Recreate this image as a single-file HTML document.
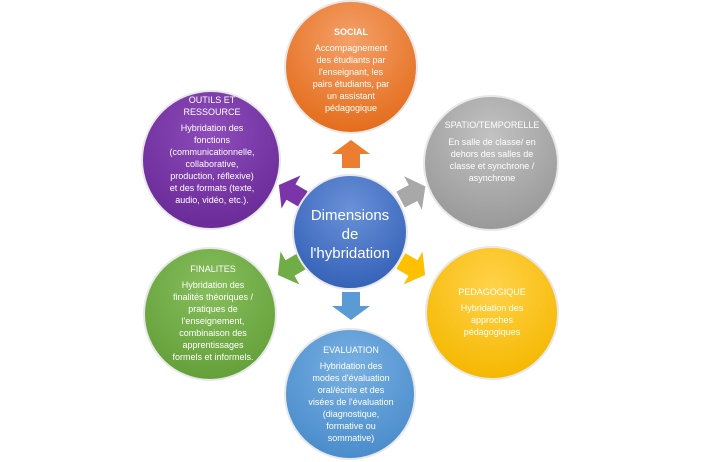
<!DOCTYPE html>
<html><head><meta charset="utf-8"><style>
html,body{margin:0;padding:0;background:#fff;width:703px;height:462px;overflow:hidden}
svg{display:block}
text{font-family:"Liberation Sans",sans-serif;fill:#fff;text-anchor:middle}
</style></head><body>
<svg width="703" height="462" viewBox="0 0 703 462">
<defs>
<radialGradient id="go" cx="50%" cy="30%" r="70%"><stop offset="0" stop-color="#f4a069"/><stop offset="1" stop-color="#e46d1c"/></radialGradient>
<radialGradient id="gp" cx="50%" cy="30%" r="70%"><stop offset="0" stop-color="#8c4dbb"/><stop offset="1" stop-color="#6a2a98"/></radialGradient>
<radialGradient id="gg" cx="50%" cy="30%" r="70%"><stop offset="0" stop-color="#c2c2c2"/><stop offset="1" stop-color="#999"/></radialGradient>
<radialGradient id="gb" cx="50%" cy="30%" r="70%"><stop offset="0" stop-color="#6a91d8"/><stop offset="1" stop-color="#3562b8"/></radialGradient>
<radialGradient id="gy" cx="50%" cy="30%" r="70%"><stop offset="0" stop-color="#ffd24a"/><stop offset="1" stop-color="#f5b800"/></radialGradient>
<radialGradient id="gn" cx="50%" cy="30%" r="70%"><stop offset="0" stop-color="#86be5c"/><stop offset="1" stop-color="#64a03a"/></radialGradient>
<radialGradient id="gl" cx="50%" cy="30%" r="70%"><stop offset="0" stop-color="#78b0e2"/><stop offset="1" stop-color="#4a8ccc"/></radialGradient>
<polygon id="ar" points="-14,-9 0,-9 0,-19 14,0 0,19 0,9 -14,9"/>
</defs>
<g stroke="#e8e8e8" stroke-width="2">
<circle cx="351" cy="67" r="66" fill="url(#go)"/>
<circle cx="211" cy="160" r="69" fill="url(#gp)"/>
<circle cx="491" cy="163" r="67" fill="url(#gg)"/>
<circle cx="210" cy="314" r="66" fill="url(#gn)"/>
<circle cx="492" cy="313" r="66" fill="url(#gy)"/>
<circle cx="350" cy="394" r="65" fill="url(#gl)"/>
</g>
<use href="#ar" fill="#ed7d31" transform="translate(351,154) rotate(-90)"/>
<use href="#ar" fill="#7b35a8" transform="translate(291,192) rotate(-150)"/>
<use href="#ar" fill="#a8a8a8" transform="translate(413,193) rotate(-28)"/>
<use href="#ar" fill="#70ad47" transform="translate(290,268) rotate(150)"/>
<use href="#ar" fill="#ffc000" transform="translate(413,268) rotate(30)"/>
<use href="#ar" fill="#5b9bd5" transform="translate(351,306) rotate(90)"/>
<circle cx="350" cy="232" r="57" fill="url(#gb)" stroke="#e8e8e8" stroke-width="2"/>
<g font-size="15"><text x="350" y="220">Dimensions</text><text x="350" y="239">de</text><text x="350" y="258">l'hybridation</text></g>
<g font-size="9">
<text x="351" y="35" font-weight="bold">SOCIAL</text>
<text x="351" y="51">Accompagnement</text><text x="351" y="63">des étudiants par</text><text x="351" y="75">l'enseignant, les</text><text x="351" y="87">pairs étudiants, par</text><text x="351" y="99">un assistant</text><text x="351" y="111">pédagogique</text>
<text x="212" y="103">OUTILS ET</text><text x="212" y="115">RESSOURCE</text>
<text x="212" y="131">Hybridation des</text><text x="212" y="143">fonctions</text><text x="212" y="155">(communicationnelle,</text><text x="212" y="167">collaborative,</text><text x="212" y="179">production, réflexive)</text><text x="212" y="191">et des formats (texte,</text><text x="212" y="203">audio, vidéo, etc.).</text>
<text x="492" y="128">SPATIO/TEMPORELLE</text>
<text x="492" y="145">En salle de classe/ en</text><text x="492" y="157">dehors des salles de</text><text x="492" y="169">classe et synchrone /</text><text x="492" y="181">asynchrone</text>
<text x="213" y="272">FINALITES</text>
<text x="213" y="288">Hybridation des</text><text x="213" y="300">finalités théoriques /</text><text x="213" y="312">pratiques de</text><text x="213" y="324">l'enseignement,</text><text x="213" y="336">combinaison des</text><text x="213" y="348">apprentissages</text><text x="213" y="360">formels et informels.</text>
<text x="492" y="295">PEDAGOGIQUE</text>
<text x="492" y="311">Hybridation des</text><text x="492" y="323">approches</text><text x="492" y="335">pédagogiques</text>
<text x="351" y="353">EVALUATION</text>
<text x="351" y="369">Hybridation des</text><text x="351" y="381">modes d'évaluation</text><text x="351" y="393">oral/écrite et des</text><text x="351" y="405">visées de l'évaluation</text><text x="351" y="417">(diagnostique,</text><text x="351" y="429">formative ou</text><text x="351" y="441">sommative)</text>
</g>
</svg>
</body></html>
